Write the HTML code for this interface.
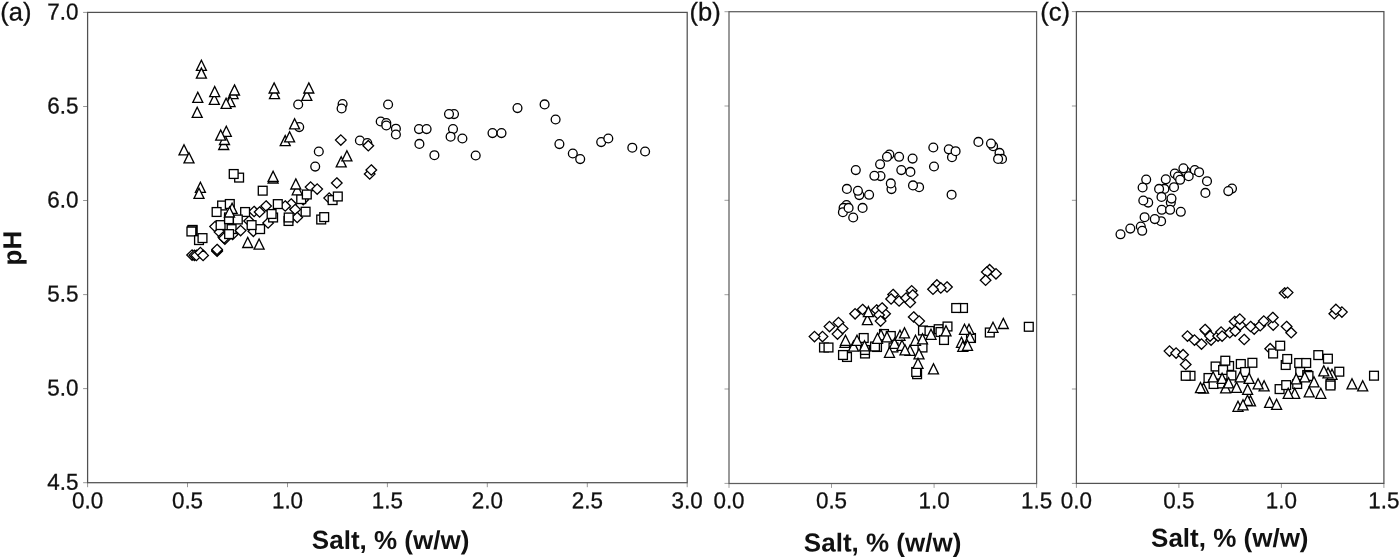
<!DOCTYPE html>
<html><head><meta charset="utf-8"><title>Salt vs pH</title>
<style>
html,body{margin:0;padding:0;background:#fff;}
body{width:1400px;height:559px;overflow:hidden;font-family:"Liberation Sans",sans-serif;}
svg{display:block;will-change:transform;}
</style></head><body>
<svg width="1400" height="559" viewBox="0 0 1400 559">
<rect width="1400" height="559" fill="#fff"/>
<rect x="87.6" y="12.4" width="599.6" height="470.3" fill="none" stroke="#505050" stroke-width="1.25"/>
<path d="M87.6 482.7v4.5M187.5 482.7v4.5M287.5 482.7v4.5M387.4 482.7v4.5M487.3 482.7v4.5M587.3 482.7v4.5M687.2 482.7v4.5M87.6 12.4h-4.5M87.6 106.5h-4.5M87.6 200.5h-4.5M87.6 294.6h-4.5M87.6 388.6h-4.5M87.6 482.7h-4.5" fill="none" stroke="#505050" stroke-width="0.6"/>
<rect x="729" y="11.7" width="307.6" height="471.8" fill="none" stroke="#5e5e5e" stroke-width="1.25"/>
<path d="M729 483.4v4.5M831.5 483.4v4.5M934.1 483.4v4.5M1036.6 483.4v4.5M729 11.7h-4.5M729 106h-4.5M729 200.3h-4.5M729 294.7h-4.5M729 389h-4.5M729 483.4h-4.5" fill="none" stroke="#5e5e5e" stroke-width="0.6"/>
<rect x="1076.4" y="11.6" width="307.5" height="471.8" fill="none" stroke="#525252" stroke-width="1.25"/>
<path d="M1076.4 483.4v4.5M1178.9 483.4v4.5M1281.4 483.4v4.5M1383.9 483.4v4.5M1076.4 11.6h-4.5M1076.4 106h-4.5M1076.4 200.3h-4.5M1076.4 294.7h-4.5M1076.4 389h-4.5M1076.4 483.4h-4.5" fill="none" stroke="#525252" stroke-width="0.6"/>
<g font-family="'Liberation Sans', sans-serif" font-size="23.0" fill="#111" stroke="#111" stroke-width="0.3" text-rendering="geometricPrecision">
<text transform="translate(0.3 20.6) rotate(0.03)" font-size="25.5">(a)</text>
<text transform="translate(689.5 20.5) rotate(0.03)" font-size="25.5">(b)</text>
<text transform="translate(1040.3 20.5) rotate(0.03)" font-size="25.5">(c)</text>
<text transform="translate(78.4 19.4) rotate(0.03) scale(0.975 1)" text-anchor="end">7.0</text>
<text transform="translate(78.4 113.5) rotate(0.03) scale(0.975 1)" text-anchor="end">6.5</text>
<text transform="translate(78.4 207.5) rotate(0.03) scale(0.975 1)" text-anchor="end">6.0</text>
<text transform="translate(78.4 301.6) rotate(0.03) scale(0.975 1)" text-anchor="end">5.5</text>
<text transform="translate(78.4 395.6) rotate(0.03) scale(0.975 1)" text-anchor="end">5.0</text>
<text transform="translate(78.4 489.7) rotate(0.03) scale(0.975 1)" text-anchor="end">4.5</text>
<text transform="translate(87.6 508.3) rotate(0.03) scale(0.975 1)" text-anchor="middle">0.0</text>
<text transform="translate(187.5 508.3) rotate(0.03) scale(0.975 1)" text-anchor="middle">0.5</text>
<text transform="translate(287.5 508.3) rotate(0.03) scale(0.975 1)" text-anchor="middle">1.0</text>
<text transform="translate(387.4 508.3) rotate(0.03) scale(0.975 1)" text-anchor="middle">1.5</text>
<text transform="translate(487.3 508.3) rotate(0.03) scale(0.975 1)" text-anchor="middle">2.0</text>
<text transform="translate(587.3 508.3) rotate(0.03) scale(0.975 1)" text-anchor="middle">2.5</text>
<text transform="translate(687.2 508.3) rotate(0.03) scale(0.975 1)" text-anchor="middle">3.0</text>
<text transform="translate(729 508.3) rotate(0.03) scale(0.975 1)" text-anchor="middle">0.0</text>
<text transform="translate(831.5 508.3) rotate(0.03) scale(0.975 1)" text-anchor="middle">0.5</text>
<text transform="translate(934.1 508.3) rotate(0.03) scale(0.975 1)" text-anchor="middle">1.0</text>
<text transform="translate(1036.6 508.3) rotate(0.03) scale(0.975 1)" text-anchor="middle">1.5</text>
<text transform="translate(1076.4 508.3) rotate(0.03) scale(0.975 1)" text-anchor="middle">0.0</text>
<text transform="translate(1178.9 508.3) rotate(0.03) scale(0.975 1)" text-anchor="middle">0.5</text>
<text transform="translate(1281.4 508.3) rotate(0.03) scale(0.975 1)" text-anchor="middle">1.0</text>
<text transform="translate(1383.9 508.3) rotate(0.03) scale(0.975 1)" text-anchor="middle">1.5</text>
</g>
<g font-family="'Liberation Sans', sans-serif" font-size="26" font-weight="bold" fill="#111" text-rendering="geometricPrecision">
<text transform="translate(390.6 548.9) rotate(0.03)" text-anchor="middle">Salt, % (w/w)</text>
<text transform="translate(882.6 551.5) rotate(0.03)" text-anchor="middle">Salt, % (w/w)</text>
<text transform="translate(1229.8 546.8) rotate(0.03)" text-anchor="middle">Salt, % (w/w)</text>
<text transform="translate(21.3 248.1) rotate(-90.03)" text-anchor="middle">pH</text>
</g>
<g fill="#fff" stroke="#000" stroke-width="1.32" stroke-linejoin="miter">
<circle cx="298.2" cy="104.5" r="4.4"/>
<circle cx="342.6" cy="104.1" r="4.4"/>
<circle cx="341.6" cy="108.5" r="4.4"/>
<circle cx="388.1" cy="104.5" r="4.4"/>
<circle cx="299.2" cy="127.1" r="4.4"/>
<circle cx="380.7" cy="121.5" r="4.4"/>
<circle cx="386.3" cy="123.1" r="4.4"/>
<circle cx="386.3" cy="125.5" r="4.4"/>
<circle cx="395.9" cy="128.7" r="4.4"/>
<circle cx="395.9" cy="134.5" r="4.4"/>
<circle cx="419" cy="129.1" r="4.4"/>
<circle cx="426.6" cy="129.1" r="4.4"/>
<circle cx="419.4" cy="143.9" r="4.4"/>
<circle cx="359.9" cy="140.5" r="4.4"/>
<circle cx="367.3" cy="143.1" r="4.4"/>
<circle cx="318.8" cy="151.5" r="4.4"/>
<circle cx="434.4" cy="155.2" r="4.4"/>
<circle cx="315.2" cy="166.6" r="4.4"/>
<circle cx="454" cy="114.1" r="4.4"/>
<circle cx="449" cy="114.1" r="4.4"/>
<circle cx="453" cy="129.1" r="4.4"/>
<circle cx="450.6" cy="136.7" r="4.4"/>
<circle cx="462.4" cy="138.5" r="4.4"/>
<circle cx="475.7" cy="155.5" r="4.4"/>
<circle cx="492.5" cy="133.1" r="4.4"/>
<circle cx="501.5" cy="133.1" r="4.4"/>
<circle cx="517.5" cy="108.1" r="4.4"/>
<circle cx="544.6" cy="104.4" r="4.4"/>
<circle cx="555.6" cy="119.5" r="4.4"/>
<circle cx="559.4" cy="144.1" r="4.4"/>
<circle cx="572.8" cy="153.5" r="4.4"/>
<circle cx="580.2" cy="159.1" r="4.4"/>
<circle cx="601.2" cy="142.1" r="4.4"/>
<circle cx="608.3" cy="138.5" r="4.4"/>
<circle cx="632.3" cy="147.7" r="4.4"/>
<circle cx="645.1" cy="151.5" r="4.4"/>
<path d="M340.8 134.9l5.3 5.2l-5.3 5.2l-5.3 -5.2z"/>
<path d="M368.3 140.5l5.3 5.2l-5.3 5.2l-5.3 -5.2z"/>
<path d="M369.7 168.8l5.3 5.2l-5.3 5.2l-5.3 -5.2z"/>
<path d="M371.3 164.8l5.3 5.2l-5.3 5.2l-5.3 -5.2z"/>
<path d="M336.8 177.8l5.3 5.2l-5.3 5.2l-5.3 -5.2z"/>
<path d="M310.6 181.9l5.3 5.2l-5.3 5.2l-5.3 -5.2z"/>
<path d="M317.2 183.9l5.3 5.2l-5.3 5.2l-5.3 -5.2z"/>
<path d="M329.2 192.9l5.3 5.2l-5.3 5.2l-5.3 -5.2z"/>
<path d="M192.1 249.9l5.3 5.2l-5.3 5.2l-5.3 -5.2z"/>
<path d="M194.4 250.1l5.3 5.2l-5.3 5.2l-5.3 -5.2z"/>
<path d="M196.4 250.2l5.3 5.2l-5.3 5.2l-5.3 -5.2z"/>
<path d="M200.4 247.4l5.3 5.2l-5.3 5.2l-5.3 -5.2z"/>
<path d="M203.1 250.2l5.3 5.2l-5.3 5.2l-5.3 -5.2z"/>
<path d="M217.1 246l5.3 5.2l-5.3 5.2l-5.3 -5.2z"/>
<path d="M217.1 245.2l5.3 5.2l-5.3 5.2l-5.3 -5.2z"/>
<path d="M217.1 244.3l5.3 5.2l-5.3 5.2l-5.3 -5.2z"/>
<path d="M254.1 206.3l5.3 5.2l-5.3 5.2l-5.3 -5.2z"/>
<path d="M266.1 200.8l5.3 5.2l-5.3 5.2l-5.3 -5.2z"/>
<path d="M259.6 206.8l5.3 5.2l-5.3 5.2l-5.3 -5.2z"/>
<path d="M291.2 198.8l5.3 5.2l-5.3 5.2l-5.3 -5.2z"/>
<path d="M285.2 200.8l5.3 5.2l-5.3 5.2l-5.3 -5.2z"/>
<path d="M295.2 204.3l5.3 5.2l-5.3 5.2l-5.3 -5.2z"/>
<path d="M297.2 212.3l5.3 5.2l-5.3 5.2l-5.3 -5.2z"/>
<path d="M268.1 217.8l5.3 5.2l-5.3 5.2l-5.3 -5.2z"/>
<path d="M249.1 215.8l5.3 5.2l-5.3 5.2l-5.3 -5.2z"/>
<path d="M253.4 226.1l5.3 5.2l-5.3 5.2l-5.3 -5.2z"/>
<path d="M215.1 221.4l5.3 5.2l-5.3 5.2l-5.3 -5.2z"/>
<path d="M219.6 226.9l5.3 5.2l-5.3 5.2l-5.3 -5.2z"/>
<path d="M223.3 231.9l5.3 5.2l-5.3 5.2l-5.3 -5.2z"/>
<path d="M224.9 233.9l5.3 5.2l-5.3 5.2l-5.3 -5.2z"/>
<path d="M224.1 232.9l5.3 5.2l-5.3 5.2l-5.3 -5.2z"/>
<path d="M232.6 229.3l5.3 5.2l-5.3 5.2l-5.3 -5.2z"/>
<path d="M303.2 194.5l5.3 5.2l-5.3 5.2l-5.3 -5.2z"/>
<rect x="234.7" y="173.2" width="8.8" height="8.8"/>
<rect x="229.3" y="169.6" width="8.8" height="8.8"/>
<rect x="258.3" y="186.3" width="8.8" height="8.8"/>
<rect x="296.8" y="194.7" width="8.8" height="8.8"/>
<rect x="302.4" y="190.1" width="8.8" height="8.8"/>
<rect x="328.2" y="195.7" width="8.8" height="8.8"/>
<rect x="333.4" y="192.1" width="8.8" height="8.8"/>
<rect x="316.8" y="215.1" width="8.8" height="8.8"/>
<rect x="319.8" y="212.7" width="8.8" height="8.8"/>
<rect x="301.2" y="207.3" width="8.8" height="8.8"/>
<rect x="273.4" y="199.7" width="8.8" height="8.8"/>
<rect x="217.7" y="201.1" width="8.8" height="8.8"/>
<rect x="225.4" y="199.6" width="8.8" height="8.8"/>
<rect x="212.2" y="207.6" width="8.8" height="8.8"/>
<rect x="240.7" y="207.6" width="8.8" height="8.8"/>
<rect x="268.7" y="213.1" width="8.8" height="8.8"/>
<rect x="267.2" y="209.6" width="8.8" height="8.8"/>
<rect x="284.1" y="216.6" width="8.8" height="8.8"/>
<rect x="284.3" y="213.1" width="8.8" height="8.8"/>
<rect x="216.2" y="220.7" width="8.8" height="8.8"/>
<rect x="255.7" y="224.7" width="8.8" height="8.8"/>
<rect x="247.2" y="220.7" width="8.8" height="8.8"/>
<rect x="227.2" y="224.7" width="8.8" height="8.8"/>
<rect x="224.7" y="229.7" width="8.8" height="8.8"/>
<rect x="188.2" y="225.5" width="8.8" height="8.8"/>
<rect x="187.9" y="226" width="8.8" height="8.8"/>
<rect x="187" y="227.1" width="8.8" height="8.8"/>
<rect x="194.6" y="235.7" width="8.8" height="8.8"/>
<rect x="198.1" y="233.7" width="8.8" height="8.8"/>
<rect x="224.6" y="213" width="8.8" height="8.8"/>
<rect x="224.6" y="214.8" width="8.8" height="8.8"/>
<rect x="233.4" y="215.1" width="8.8" height="8.8"/>
<path d="M201.4 60.3l5 10.1h-10z"/>
<path d="M201.4 68.1l5 10.1h-10z"/>
<path d="M274.5 88.5l5 10.1h-10z"/>
<path d="M274.1 82.9l5 10.1h-10z"/>
<path d="M306.8 90.3l5 10.1h-10z"/>
<path d="M308.8 82.9l5 10.1h-10z"/>
<path d="M214.3 94.3l5 10.1h-10z"/>
<path d="M214.7 86.5l5 10.1h-10z"/>
<path d="M233.1 88.5l5 10.1h-10z"/>
<path d="M234.5 84.9l5 10.1h-10z"/>
<path d="M230.1 96.5l5 10.1h-10z"/>
<path d="M226.1 98.3l5 10.1h-10z"/>
<path d="M197.8 92.3l5 10.1h-10z"/>
<path d="M197.2 107.3l5 10.1h-10z"/>
<path d="M223.7 139.4l5 10.1h-10z"/>
<path d="M224.5 134.4l5 10.1h-10z"/>
<path d="M226.3 126.2l5 10.1h-10z"/>
<path d="M220.7 130l5 10.1h-10z"/>
<path d="M184 144.8l5 10.1h-10z"/>
<path d="M189 152.8l5 10.1h-10z"/>
<path d="M294.6 118.8l5 10.1h-10z"/>
<path d="M285.2 135.6l5 10.1h-10z"/>
<path d="M289.6 131.8l5 10.1h-10z"/>
<path d="M341.2 156.8l5 10.1h-10z"/>
<path d="M346.9 150.8l5 10.1h-10z"/>
<path d="M200.4 182.3l5 10.1h-10z"/>
<path d="M199 188.3l5 10.1h-10z"/>
<path d="M273.1 172.9l5 10.1h-10z"/>
<path d="M273.1 171.3l5 10.1h-10z"/>
<path d="M297.2 184.7l5 10.1h-10z"/>
<path d="M295.8 178.9l5 10.1h-10z"/>
<path d="M232.1 203.3l5 10.1h-10z"/>
<path d="M229.5 206.9l5 10.1h-10z"/>
<path d="M247.7 237.4l5 10.1h-10z"/>
<path d="M259.1 239l5 10.1h-10z"/>
<path d="M240.6 225.4l5.3 5.2l-5.3 5.2l-5.3 -5.2z"/>
<circle cx="855.8" cy="170.1" r="4.4"/>
<circle cx="846.9" cy="188.9" r="4.4"/>
<circle cx="859.3" cy="195.1" r="4.4"/>
<circle cx="857.9" cy="190.8" r="4.4"/>
<circle cx="869.1" cy="194.8" r="4.4"/>
<circle cx="880.5" cy="176.1" r="4.4"/>
<circle cx="874.4" cy="175.8" r="4.4"/>
<circle cx="880.1" cy="164.3" r="4.4"/>
<circle cx="889.4" cy="154.6" r="4.4"/>
<circle cx="887" cy="156.8" r="4.4"/>
<circle cx="899.1" cy="156.8" r="4.4"/>
<circle cx="912.6" cy="158.6" r="4.4"/>
<circle cx="901.3" cy="170.1" r="4.4"/>
<circle cx="910.4" cy="171.9" r="4.4"/>
<circle cx="891.5" cy="189.1" r="4.4"/>
<circle cx="890.8" cy="183.4" r="4.4"/>
<circle cx="919.1" cy="187.2" r="4.4"/>
<circle cx="913" cy="185.4" r="4.4"/>
<circle cx="933.3" cy="147.5" r="4.4"/>
<circle cx="934" cy="166.5" r="4.4"/>
<circle cx="952" cy="157.2" r="4.4"/>
<circle cx="948.8" cy="149.3" r="4.4"/>
<circle cx="955.6" cy="151.2" r="4.4"/>
<circle cx="951.6" cy="194.7" r="4.4"/>
<circle cx="978.4" cy="141.9" r="4.4"/>
<circle cx="993.1" cy="146.2" r="4.4"/>
<circle cx="991" cy="143.6" r="4.4"/>
<circle cx="999.5" cy="152.9" r="4.4"/>
<circle cx="1002" cy="158.9" r="4.4"/>
<circle cx="998.1" cy="158.9" r="4.4"/>
<circle cx="846.5" cy="205" r="4.4"/>
<circle cx="843.6" cy="207.9" r="4.4"/>
<circle cx="842.9" cy="212.2" r="4.4"/>
<circle cx="848.6" cy="207.9" r="4.4"/>
<circle cx="862.6" cy="207.9" r="4.4"/>
<circle cx="853.2" cy="217.5" r="4.4"/>
<path d="M822.5 331.4l5.3 5.2l-5.3 5.2l-5.3 -5.2z"/>
<path d="M814.5 331.4l5.3 5.2l-5.3 5.2l-5.3 -5.2z"/>
<path d="M829.5 321.4l5.3 5.2l-5.3 5.2l-5.3 -5.2z"/>
<path d="M838.5 317.4l5.3 5.2l-5.3 5.2l-5.3 -5.2z"/>
<path d="M842.6 323.4l5.3 5.2l-5.3 5.2l-5.3 -5.2z"/>
<path d="M837.5 328.9l5.3 5.2l-5.3 5.2l-5.3 -5.2z"/>
<path d="M855.1 308.6l5.3 5.2l-5.3 5.2l-5.3 -5.2z"/>
<path d="M862.6 304.3l5.3 5.2l-5.3 5.2l-5.3 -5.2z"/>
<path d="M876.6 304.8l5.3 5.2l-5.3 5.2l-5.3 -5.2z"/>
<path d="M885.1 308.6l5.3 5.2l-5.3 5.2l-5.3 -5.2z"/>
<path d="M879.1 309.8l5.3 5.2l-5.3 5.2l-5.3 -5.2z"/>
<path d="M882.1 302.8l5.3 5.2l-5.3 5.2l-5.3 -5.2z"/>
<path d="M880.6 315.9l5.3 5.2l-5.3 5.2l-5.3 -5.2z"/>
<path d="M893.1 289.3l5.3 5.2l-5.3 5.2l-5.3 -5.2z"/>
<path d="M891.1 293.8l5.3 5.2l-5.3 5.2l-5.3 -5.2z"/>
<path d="M899.1 295.8l5.3 5.2l-5.3 5.2l-5.3 -5.2z"/>
<path d="M911.7 285.6l5.3 5.2l-5.3 5.2l-5.3 -5.2z"/>
<path d="M906.1 292.8l5.3 5.2l-5.3 5.2l-5.3 -5.2z"/>
<path d="M912.7 289.8l5.3 5.2l-5.3 5.2l-5.3 -5.2z"/>
<path d="M910.2 297.3l5.3 5.2l-5.3 5.2l-5.3 -5.2z"/>
<path d="M913.7 311.8l5.3 5.2l-5.3 5.2l-5.3 -5.2z"/>
<path d="M919.2 315.9l5.3 5.2l-5.3 5.2l-5.3 -5.2z"/>
<path d="M989.6 264.5l5.3 5.2l-5.3 5.2l-5.3 -5.2z"/>
<path d="M986.8 266.8l5.3 5.2l-5.3 5.2l-5.3 -5.2z"/>
<path d="M996 268.6l5.3 5.2l-5.3 5.2l-5.3 -5.2z"/>
<path d="M985.6 275l5.3 5.2l-5.3 5.2l-5.3 -5.2z"/>
<path d="M936.9 279.7l5.3 5.2l-5.3 5.2l-5.3 -5.2z"/>
<path d="M947 281.8l5.3 5.2l-5.3 5.2l-5.3 -5.2z"/>
<path d="M940.8 282.7l5.3 5.2l-5.3 5.2l-5.3 -5.2z"/>
<path d="M933 284l5.3 5.2l-5.3 5.2l-5.3 -5.2z"/>
<rect x="819.6" y="343.1" width="8.8" height="8.8"/>
<rect x="824.1" y="343.1" width="8.8" height="8.8"/>
<rect x="842.6" y="352.6" width="8.8" height="8.8"/>
<rect x="838.6" y="350.6" width="8.8" height="8.8"/>
<rect x="859.3" y="333.6" width="8.8" height="8.8"/>
<rect x="860.6" y="349.1" width="8.8" height="8.8"/>
<rect x="860.6" y="345.6" width="8.8" height="8.8"/>
<rect x="872.6" y="342.6" width="8.8" height="8.8"/>
<rect x="870.6" y="342.1" width="8.8" height="8.8"/>
<rect x="879.6" y="329.6" width="8.8" height="8.8"/>
<rect x="886.4" y="331.6" width="8.8" height="8.8"/>
<rect x="889.1" y="343.1" width="8.8" height="8.8"/>
<rect x="918.6" y="326.1" width="8.8" height="8.8"/>
<rect x="925.1" y="326.6" width="8.8" height="8.8"/>
<rect x="934.3" y="324.8" width="8.8" height="8.8"/>
<rect x="936.1" y="327.6" width="8.8" height="8.8"/>
<rect x="943.1" y="322.1" width="8.8" height="8.8"/>
<rect x="939.6" y="335.6" width="8.8" height="8.8"/>
<rect x="918.1" y="343.1" width="8.8" height="8.8"/>
<rect x="912.7" y="369.8" width="8.8" height="8.8"/>
<rect x="911.8" y="367.6" width="8.8" height="8.8"/>
<rect x="958.6" y="303.6" width="8.8" height="8.8"/>
<rect x="951.8" y="303.6" width="8.8" height="8.8"/>
<rect x="1024.4" y="322.4" width="8.8" height="8.8"/>
<rect x="985.4" y="328.1" width="8.8" height="8.8"/>
<rect x="966.6" y="333.6" width="8.8" height="8.8"/>
<path d="M867.4 314.6l5 10.1h-10z"/>
<path d="M868.4 306.6l5 10.1h-10z"/>
<path d="M845 337.2l5 10.1h-10z"/>
<path d="M845.5 335.2l5 10.1h-10z"/>
<path d="M853.5 341.1l5 10.1h-10z"/>
<path d="M857 335.2l5 10.1h-10z"/>
<path d="M864.5 340.8l5 10.1h-10z"/>
<path d="M881 329.8l5 10.1h-10z"/>
<path d="M877.5 333.2l5 10.1h-10z"/>
<path d="M887 331.8l5 10.1h-10z"/>
<path d="M894.5 338.2l5 10.1h-10z"/>
<path d="M889.5 347.2l5 10.1h-10z"/>
<path d="M900 330.2l5 10.1h-10z"/>
<path d="M904.5 327.8l5 10.1h-10z"/>
<path d="M902 340.2l5 10.1h-10z"/>
<path d="M910 345.2l5 10.1h-10z"/>
<path d="M905 344.8l5 10.1h-10z"/>
<path d="M915.5 335.2l5 10.1h-10z"/>
<path d="M922.5 333.8l5 10.1h-10z"/>
<path d="M931 329.2l5 10.1h-10z"/>
<path d="M946 325.8l5 10.1h-10z"/>
<path d="M919 348.8l5 10.1h-10z"/>
<path d="M918 358.2l5 10.1h-10z"/>
<path d="M933.5 363.8l5 10.1h-10z"/>
<path d="M969 324.2l5 10.1h-10z"/>
<path d="M964.5 324.2l5 10.1h-10z"/>
<path d="M961.5 337.2l5 10.1h-10z"/>
<path d="M962.8 341.2l5 10.1h-10z"/>
<path d="M970 332.2l5 10.1h-10z"/>
<path d="M967.5 340.2l5 10.1h-10z"/>
<path d="M993 322.2l5 10.1h-10z"/>
<path d="M1003.3 318.4l5 10.1h-10z"/>
<circle cx="1146.2" cy="179.6" r="4.4"/>
<circle cx="1142.6" cy="187.5" r="4.4"/>
<circle cx="1148.2" cy="202.6" r="4.4"/>
<circle cx="1143.3" cy="200.5" r="4.4"/>
<circle cx="1144.6" cy="217.2" r="4.4"/>
<circle cx="1161.1" cy="221.2" r="4.4"/>
<circle cx="1154.8" cy="219.1" r="4.4"/>
<circle cx="1165.8" cy="179.3" r="4.4"/>
<circle cx="1164.4" cy="188.9" r="4.4"/>
<circle cx="1159.1" cy="188.9" r="4.4"/>
<circle cx="1161.5" cy="196.9" r="4.4"/>
<circle cx="1161.8" cy="209.8" r="4.4"/>
<circle cx="1170.8" cy="202.6" r="4.4"/>
<circle cx="1170.1" cy="209.8" r="4.4"/>
<circle cx="1171.5" cy="198.6" r="4.4"/>
<circle cx="1174" cy="187.2" r="4.4"/>
<circle cx="1180.8" cy="211.8" r="4.4"/>
<circle cx="1174.8" cy="173.6" r="4.4"/>
<circle cx="1178" cy="176.5" r="4.4"/>
<circle cx="1180.1" cy="179.8" r="4.4"/>
<circle cx="1185.8" cy="171.5" r="4.4"/>
<circle cx="1183.4" cy="168.3" r="4.4"/>
<circle cx="1188.7" cy="176.2" r="4.4"/>
<circle cx="1194.8" cy="170" r="4.4"/>
<circle cx="1199.1" cy="172.2" r="4.4"/>
<circle cx="1207" cy="181.2" r="4.4"/>
<circle cx="1205.4" cy="192.9" r="4.4"/>
<circle cx="1232" cy="188.6" r="4.4"/>
<circle cx="1228.3" cy="191.1" r="4.4"/>
<circle cx="1120.5" cy="234.3" r="4.4"/>
<circle cx="1130.3" cy="228.6" r="4.4"/>
<circle cx="1140.8" cy="226.5" r="4.4"/>
<circle cx="1142.2" cy="230.8" r="4.4"/>
<path d="M1284.6 287.8l5.3 5.2l-5.3 5.2l-5.3 -5.2z"/>
<path d="M1287.6 287.4l5.3 5.2l-5.3 5.2l-5.3 -5.2z"/>
<path d="M1334.3 308.5l5.3 5.2l-5.3 5.2l-5.3 -5.2z"/>
<path d="M1341.9 306.9l5.3 5.2l-5.3 5.2l-5.3 -5.2z"/>
<path d="M1335.9 304.2l5.3 5.2l-5.3 5.2l-5.3 -5.2z"/>
<path d="M1169.5 345.9l5.3 5.2l-5.3 5.2l-5.3 -5.2z"/>
<path d="M1176.1 347.9l5.3 5.2l-5.3 5.2l-5.3 -5.2z"/>
<path d="M1183.1 349.5l5.3 5.2l-5.3 5.2l-5.3 -5.2z"/>
<path d="M1185.7 359.3l5.3 5.2l-5.3 5.2l-5.3 -5.2z"/>
<path d="M1187.5 330.9l5.3 5.2l-5.3 5.2l-5.3 -5.2z"/>
<path d="M1194.5 334.9l5.3 5.2l-5.3 5.2l-5.3 -5.2z"/>
<path d="M1201.5 338.9l5.3 5.2l-5.3 5.2l-5.3 -5.2z"/>
<path d="M1206.1 325.9l5.3 5.2l-5.3 5.2l-5.3 -5.2z"/>
<path d="M1205.1 324.3l5.3 5.2l-5.3 5.2l-5.3 -5.2z"/>
<path d="M1211.1 334.9l5.3 5.2l-5.3 5.2l-5.3 -5.2z"/>
<path d="M1210.1 330.9l5.3 5.2l-5.3 5.2l-5.3 -5.2z"/>
<path d="M1218.1 330.9l5.3 5.2l-5.3 5.2l-5.3 -5.2z"/>
<path d="M1221.1 326.9l5.3 5.2l-5.3 5.2l-5.3 -5.2z"/>
<path d="M1222.1 330.9l5.3 5.2l-5.3 5.2l-5.3 -5.2z"/>
<path d="M1229.8 327.5l5.3 5.2l-5.3 5.2l-5.3 -5.2z"/>
<path d="M1235.2 325.9l5.3 5.2l-5.3 5.2l-5.3 -5.2z"/>
<path d="M1234.6 316.3l5.3 5.2l-5.3 5.2l-5.3 -5.2z"/>
<path d="M1240.2 319.9l5.3 5.2l-5.3 5.2l-5.3 -5.2z"/>
<path d="M1239.8 313.9l5.3 5.2l-5.3 5.2l-5.3 -5.2z"/>
<path d="M1244.2 334.3l5.3 5.2l-5.3 5.2l-5.3 -5.2z"/>
<path d="M1254.2 323.9l5.3 5.2l-5.3 5.2l-5.3 -5.2z"/>
<path d="M1250.6 321.3l5.3 5.2l-5.3 5.2l-5.3 -5.2z"/>
<path d="M1260.2 320.5l5.3 5.2l-5.3 5.2l-5.3 -5.2z"/>
<path d="M1263.8 315.9l5.3 5.2l-5.3 5.2l-5.3 -5.2z"/>
<path d="M1273.2 319.9l5.3 5.2l-5.3 5.2l-5.3 -5.2z"/>
<path d="M1272.8 312.3l5.3 5.2l-5.3 5.2l-5.3 -5.2z"/>
<path d="M1286.6 321.3l5.3 5.2l-5.3 5.2l-5.3 -5.2z"/>
<path d="M1291.2 327.5l5.3 5.2l-5.3 5.2l-5.3 -5.2z"/>
<path d="M1270.2 343.5l5.3 5.2l-5.3 5.2l-5.3 -5.2z"/>
<rect x="1186.1" y="371.4" width="8.8" height="8.8"/>
<rect x="1181.3" y="371.4" width="8.8" height="8.8"/>
<rect x="1211.2" y="362.1" width="8.8" height="8.8"/>
<rect x="1224.7" y="361.6" width="8.8" height="8.8"/>
<rect x="1218.7" y="365.6" width="8.8" height="8.8"/>
<rect x="1220.9" y="356.3" width="8.8" height="8.8"/>
<rect x="1236.4" y="359.6" width="8.8" height="8.8"/>
<rect x="1248" y="358.4" width="8.8" height="8.8"/>
<rect x="1240.7" y="367.6" width="8.8" height="8.8"/>
<rect x="1227" y="371.1" width="8.8" height="8.8"/>
<rect x="1204.1" y="373.6" width="8.8" height="8.8"/>
<rect x="1209.2" y="379.6" width="8.8" height="8.8"/>
<rect x="1217.7" y="379.1" width="8.8" height="8.8"/>
<rect x="1268.7" y="349.1" width="8.8" height="8.8"/>
<rect x="1281.3" y="360.6" width="8.8" height="8.8"/>
<rect x="1282.8" y="354.6" width="8.8" height="8.8"/>
<rect x="1294.8" y="358.6" width="8.8" height="8.8"/>
<rect x="1301.8" y="358.6" width="8.8" height="8.8"/>
<rect x="1295.8" y="367.6" width="8.8" height="8.8"/>
<rect x="1302.8" y="370.6" width="8.8" height="8.8"/>
<rect x="1275.2" y="384.7" width="8.8" height="8.8"/>
<rect x="1281.8" y="380.7" width="8.8" height="8.8"/>
<rect x="1292.8" y="379.6" width="8.8" height="8.8"/>
<rect x="1275.8" y="341.3" width="8.8" height="8.8"/>
<rect x="1313.9" y="350.7" width="8.8" height="8.8"/>
<rect x="1323.5" y="354.3" width="8.8" height="8.8"/>
<rect x="1334.9" y="367.3" width="8.8" height="8.8"/>
<rect x="1369.6" y="371.3" width="8.8" height="8.8"/>
<rect x="1304.1" y="371.6" width="8.8" height="8.8"/>
<rect x="1326.1" y="379.6" width="8.8" height="8.8"/>
<rect x="1326.1" y="381.1" width="8.8" height="8.8"/>
<path d="M1203.5 383.1l5 10.1h-10z"/>
<path d="M1200.5 382.5l5 10.1h-10z"/>
<path d="M1213.1 371.8l5 10.1h-10z"/>
<path d="M1222.1 373.3l5 10.1h-10z"/>
<path d="M1225.6 382.8l5 10.1h-10z"/>
<path d="M1228.6 377.8l5 10.1h-10z"/>
<path d="M1236.6 382.3l5 10.1h-10z"/>
<path d="M1240.1 371.8l5 10.1h-10z"/>
<path d="M1249.1 373.3l5 10.1h-10z"/>
<path d="M1247.6 384.3l5 10.1h-10z"/>
<path d="M1264.1 380.8l5 10.1h-10z"/>
<path d="M1258.1 378.8l5 10.1h-10z"/>
<path d="M1296.2 373.8l5 10.1h-10z"/>
<path d="M1304.7 371.8l5 10.1h-10z"/>
<path d="M1294.7 388.3l5 10.1h-10z"/>
<path d="M1288.2 388.3l5 10.1h-10z"/>
<path d="M1309.2 386.8l5 10.1h-10z"/>
<path d="M1269.6 397.3l5 10.1h-10z"/>
<path d="M1276.6 399.3l5 10.1h-10z"/>
<path d="M1314 376.8l5 10.1h-10z"/>
<path d="M1250.5 395.8l5 10.1h-10z"/>
<path d="M1247.5 395.2l5 10.1h-10z"/>
<path d="M1238 401.2l5 10.1h-10z"/>
<path d="M1243 399.8l5 10.1h-10z"/>
<path d="M1320.8 388.2l5 10.1h-10z"/>
<path d="M1332 369.2l5 10.1h-10z"/>
<path d="M1328 367.8l5 10.1h-10z"/>
<path d="M1323.8 365.8l5 10.1h-10z"/>
<path d="M1352 378.8l5 10.1h-10z"/>
<path d="M1362.7 380.8l5 10.1h-10z"/>
</g>
</svg>
</body></html>
